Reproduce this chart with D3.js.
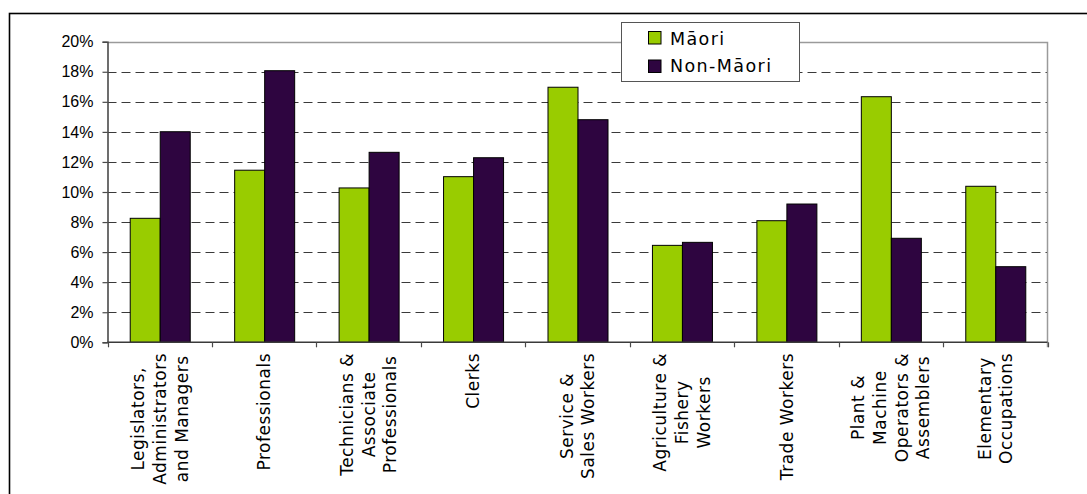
<!DOCTYPE html>
<html>
<head>
<meta charset="utf-8">
<script src="https://cdn.jsdelivr.net/npm/d3@7"></script>
<style>
  html, body { margin: 0; padding: 0; background: #fff; }
  svg { display: block; }
</style>
</head>
<body>
<svg id="chart" width="1087" height="494"></svg>
<script>
// ---- data ----
const categories = [
  "Legislators,\nAdministrators\nand Managers",
  "Professionals",
  "Technicians &\nAssociate\nProfessionals",
  "Clerks",
  "Service &\nSales Workers",
  "Agriculture &\nFishery\nWorkers",
  "Trade Workers",
  "Plant &\nMachine\nOperators &\nAssemblers",
  "Elementary\nOccupations"
];
const seriesNames = ["Māori", "Non-Māori"];
const maori    = [8.25, 11.45, 10.27, 11.02, 16.97, 6.45, 8.09, 16.34, 10.38];
const nonMaori = [14.01, 18.07, 12.64, 12.28, 14.81, 6.65, 9.20, 6.92, 5.03];
const yTicks = [0, 2, 4, 6, 8, 10, 12, 14, 16, 18, 20];
const colors = ["#99cc00", "#2e0540"];

// ---- layout ----
const svg = d3.select("#chart");
const plot = { left: 107.5, right: 1047.5, top: 41.7, bottom: 342.3 };

// outer frame
svg.append("rect")
  .attr("x", 9.5).attr("y", 13.5).attr("width", 1200).attr("height", 600)
  .attr("fill", "none").attr("stroke", "#000").attr("stroke-width", 1.6);

const x = d3.scaleBand().domain(categories)
  .range([plot.left, plot.right]).paddingInner(0.4255).paddingOuter(0.4255 / 2);
const xs = d3.scaleBand().domain(seriesNames).range([0, x.bandwidth()]);
const y = d3.scaleLinear().domain([0, 20]).range([plot.bottom, plot.top]);

// gridlines
svg.append("g").selectAll("line")
  .data(yTicks.filter(t => t > 0 && t < 20))
  .join("line")
  .attr("x1", plot.left).attr("x2", plot.right)
  .attr("y1", d => Math.round(y(d)) + 0.5).attr("y2", d => Math.round(y(d)) + 0.5)
  .attr("stroke", "#3a3a3a").attr("stroke-width", 1)
  .attr("stroke-dasharray", "9,5");

// plot border (top + right)
svg.append("path")
  .attr("d", `M${plot.left},${Math.round(y(20)) + 0.5}H${plot.right}V${plot.bottom + 5}`)
  .attr("fill", "none").attr("stroke", "#9a9a9a").attr("stroke-width", 1.5);

// bars
const data = categories.map((c, i) => ({ c, vals: [maori[i], nonMaori[i]] }));
const groups = svg.append("g").selectAll("g")
  .data(data).join("g")
  .attr("transform", d => `translate(${x(d.c)},0)`);
groups.selectAll("rect")
  .data(d => d.vals.map((v, k) => ({ v, k })))
  .join("rect")
  .attr("x", d => xs(seriesNames[d.k]) + 0.5)
  .attr("width", xs.bandwidth())
  .attr("y", d => y(d.v))
  .attr("height", d => y(0) - y(d.v))
  .attr("fill", d => colors[d.k])
  .attr("stroke", "#000").attr("stroke-width", 1);

// y axis
const yAxis = d3.axisLeft(y).tickValues(yTicks).tickFormat(d => d + "%").tickSize(5).tickPadding(9);
const yg = svg.append("g").attr("transform", `translate(${plot.left},0)`).call(yAxis);
yg.select(".domain").attr("stroke", "#4a4a4a").attr("stroke-width", 1.6);
yg.selectAll(".tick line").attr("stroke", "#4a4a4a").attr("stroke-width", 1.2);
yg.selectAll(".tick text")
  .attr("font-family", "'Liberation Sans', Arial, sans-serif")
  .attr("font-size", 16).attr("fill", "#000");

// x axis line and ticks at band boundaries
const bounds = d3.range(categories.length + 1).map(i => plot.left + i * x.step());
svg.append("line")
  .attr("x1", plot.left).attr("x2", plot.right)
  .attr("y1", plot.bottom).attr("y2", plot.bottom)
  .attr("stroke", "#3a3a3a").attr("stroke-width", 1.6);
svg.append("g").selectAll("line").data(bounds).join("line")
  .attr("x1", d => Math.round(d) + 0.5).attr("x2", d => Math.round(d) + 0.5)
  .attr("y1", plot.bottom).attr("y2", plot.bottom + 5)
  .attr("stroke", "#4a4a4a").attr("stroke-width", 1.2);

// category labels (rotated)
const lineH = 21.7;
const labelTop = 353;
const lab = svg.append("g").selectAll("g").data(categories).join("g")
  .attr("font-family", "'DejaVu Sans', Verdana, sans-serif")
  .attr("font-size", 17)
  .attr("letter-spacing", 0.5)
  .attr("fill", "#000");
lab.each(function (c) {
  const g = d3.select(this);
  const lines = c.split("\n");
  const n = lines.length;
  const cx = x(c) + x.bandwidth() / 2;
  const texts = lines.map((ln, i) => g.append("text")
    .attr("text-anchor", "middle")
    .attr("dy", "0.36em")
    .text(ln));
  const maxLen = d3.max(texts, t => t.node().getComputedTextLength());
  g.attr("transform", `translate(${cx},${labelTop + maxLen / 2}) rotate(-90)`);
  texts.forEach((t, i) => t.attr("y", (i - (n - 1) / 2) * lineH));
});

// legend
const leg = svg.append("g");
leg.append("rect")
  .attr("x", 621.5).attr("y", 22.5).attr("width", 178).attr("height", 59)
  .attr("fill", "#fff").attr("stroke", "#555").attr("stroke-width", 1);
seriesNames.forEach((s, i) => {
  leg.append("rect")
    .attr("x", 648.5).attr("y", 31.5 + i * 28.5).attr("width", 12.5).attr("height", 12.5)
    .attr("fill", colors[i]).attr("stroke", "#000").attr("stroke-width", 1);
  leg.append("text")
    .attr("x", 670).attr("y", 45 + i * 27)
    .attr("font-family", "'DejaVu Sans', Verdana, sans-serif")
    .attr("font-size", 17.5)
    .attr("letter-spacing", 1.4)
    .attr("fill", "#000")
    .text(s);
});
</script>
</body>
</html>
